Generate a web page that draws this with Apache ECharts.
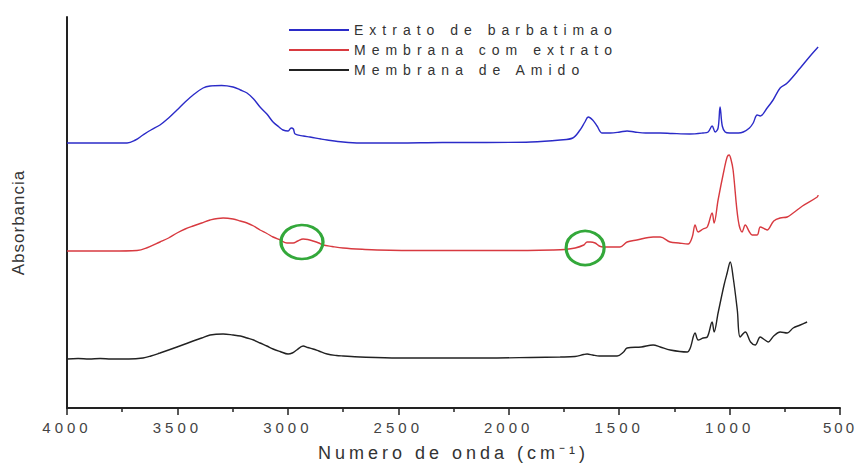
<!DOCTYPE html>
<html>
<head>
<meta charset="utf-8">
<script src="https://cdn.jsdelivr.net/npm/echarts@6/dist/echarts.min.js"></script>
<style>
  html, body { margin: 0; padding: 0; background: #fff; }
  #chart { width: 857px; height: 468px; }
</style>
</head>
<body>
<div id="chart"></div>
<script>
// ---- Data ----
const seriesNames = ['Extrato de barbatimao', 'Membrana com extrato', 'Membrana de Amido'];
const xTicks = [500, 1000, 1500, 2000, 2500, 3000, 3500, 4000];
const xTitle = 'Numero de onda (cm\u207B\u00B9)';
const yTitle = 'Absorbancia';

const blueWn = [4000, 3850, 3760, 3728, 3690, 3656, 3620, 3579, 3540, 3502, 3465, 3429, 3384, 3352, 3300, 3248, 3215, 3185, 3155, 3126, 3095, 3067, 3040, 3022, 2999, 2985, 2975, 2967, 2930, 2900, 2850, 2822, 2750, 2673, 2500, 2300, 2100, 1900, 1767, 1710, 1677, 1655, 1640, 1620, 1600, 1577, 1540, 1496, 1464, 1430, 1380, 1314, 1260, 1180, 1120, 1097, 1079, 1065, 1052, 1043, 1033, 1020, 1000, 960, 938, 910, 893, 875, 861, 830, 803, 771, 739, 680, 635, 599];
const blueAbs = [2.65, 2.65, 2.65, 2.65, 2.68, 2.73, 2.78, 2.83, 2.90, 2.98, 3.06, 3.13, 3.20, 3.22, 3.225, 3.21, 3.18, 3.15, 3.09, 3.01, 2.94, 2.86, 2.81, 2.78, 2.77, 2.80, 2.79, 2.74, 2.72, 2.71, 2.69, 2.68, 2.66, 2.65, 2.65, 2.655, 2.655, 2.66, 2.68, 2.70, 2.78, 2.86, 2.91, 2.88, 2.82, 2.75, 2.75, 2.76, 2.77, 2.76, 2.75, 2.75, 2.745, 2.74, 2.75, 2.76, 2.82, 2.76, 2.80, 3.01, 2.82, 2.76, 2.75, 2.75, 2.76, 2.80, 2.85, 2.93, 2.92, 3.00, 3.08, 3.20, 3.25, 3.40, 3.52, 3.61];

const redWn = [4000, 3800, 3683, 3640, 3579, 3540, 3502, 3465, 3429, 3390, 3352, 3293, 3248, 3215, 3185, 3155, 3126, 3095, 3067, 3035, 3004, 2976, 2955, 2931, 2910, 2886, 2860, 2841, 2800, 2750, 2650, 2596, 2400, 2200, 2000, 1800, 1745, 1699, 1660, 1645, 1630, 1609, 1590, 1572, 1530, 1496, 1464, 1420, 1346, 1314, 1269, 1230, 1188, 1169, 1156, 1142, 1120, 1101, 1079, 1070, 1052, 1025, 1011, 1002, 993, 984, 961, 943, 929, 910, 898, 875, 861, 840, 830, 800, 771, 739, 712, 670, 603, 599];
const redAbs = [1.57, 1.57, 1.575, 1.60, 1.66, 1.70, 1.75, 1.79, 1.82, 1.85, 1.88, 1.90, 1.89, 1.87, 1.85, 1.82, 1.78, 1.745, 1.71, 1.68, 1.65, 1.65, 1.67, 1.69, 1.685, 1.67, 1.65, 1.63, 1.615, 1.60, 1.585, 1.58, 1.575, 1.575, 1.575, 1.58, 1.585, 1.60, 1.63, 1.66, 1.66, 1.65, 1.62, 1.61, 1.61, 1.61, 1.66, 1.68, 1.71, 1.71, 1.66, 1.65, 1.64, 1.71, 1.83, 1.76, 1.79, 1.81, 1.95, 1.85, 2.08, 2.38, 2.51, 2.53, 2.48, 2.38, 1.88, 1.76, 1.83, 1.76, 1.73, 1.73, 1.81, 1.79, 1.78, 1.87, 1.90, 1.91, 1.95, 2.02, 2.11, 2.13];

const blackWn = [4000, 3950, 3900, 3850, 3800, 3720, 3656, 3620, 3579, 3540, 3502, 3465, 3429, 3390, 3352, 3293, 3248, 3215, 3185, 3155, 3126, 3095, 3067, 3035, 2999, 2980, 2960, 2931, 2910, 2886, 2860, 2822, 2780, 2750, 2673, 2500, 2300, 2100, 1900, 1767, 1700, 1660, 1645, 1620, 1590, 1509, 1480, 1464, 1400, 1346, 1314, 1269, 1192, 1178, 1156, 1142, 1120, 1101, 1079, 1070, 1052, 1025, 1011, 997, 984, 965, 952, 929, 905, 884, 861, 840, 825, 800, 771, 739, 712, 680, 649];
const blackAbs = [0.49, 0.495, 0.49, 0.495, 0.49, 0.49, 0.50, 0.52, 0.55, 0.58, 0.61, 0.64, 0.67, 0.70, 0.73, 0.74, 0.73, 0.72, 0.70, 0.68, 0.65, 0.62, 0.59, 0.565, 0.54, 0.55, 0.58, 0.62, 0.605, 0.59, 0.57, 0.54, 0.525, 0.52, 0.51, 0.50, 0.50, 0.50, 0.505, 0.51, 0.515, 0.535, 0.54, 0.53, 0.52, 0.52, 0.56, 0.60, 0.61, 0.63, 0.61, 0.58, 0.56, 0.60, 0.75, 0.68, 0.70, 0.71, 0.86, 0.76, 0.95, 1.23, 1.35, 1.46, 1.31, 0.98, 0.71, 0.76, 0.66, 0.63, 0.71, 0.68, 0.66, 0.72, 0.76, 0.75, 0.80, 0.83, 0.86];

// highlighted bands (green ellipses) on the "Membrana com extrato" curve
const highlightWn = [2936, 1654];
const highlightAbs = [1.66, 1.60];

// ---- Chart ----
const FONT = "'Liberation Sans', Arial, sans-serif";
const zip = (a, b) => a.map((v, i) => [v, b[i]]);
const chart = echarts.init(document.getElementById('chart'), null, { renderer: 'svg' });

chart.setOption({
  animation: false,
  backgroundColor: '#ffffff',
  textStyle: { fontFamily: FONT },
  grid: { left: 67, right: 17, top: 17, bottom: 60 },
  legend: {
    data: seriesNames,
    orient: 'vertical',
    left: 283,
    top: 18,
    itemWidth: 60,
    itemHeight: 14,
    itemGap: 6,
    itemStyle: { color: 'rgba(0,0,0,0)', borderWidth: 0, opacity: 0 },
    textStyle: { fontSize: 14, color: '#333', fontFamily: FONT }
  },
  xAxis: {
    type: 'value',
    inverse: true,
    min: 500,
    max: 4000,
    interval: 500,
    name: xTitle,
    nameLocation: 'middle',
    nameGap: 36,
    nameTextStyle: { fontSize: 18, color: '#333', fontFamily: FONT },
    axisLine: { show: true, onZero: false, lineStyle: { color: '#222', width: 2 } },
    axisTick: { show: true, length: 7, lineStyle: { color: '#222', width: 1.5 } },
    minorTick: { show: true, splitNumber: 2, length: 4, lineStyle: { color: '#222', width: 1.5 } },
    axisLabel: { fontSize: 15, color: '#444', margin: 12, fontFamily: FONT,
      customValues: xTicks, formatter: v => String(v) },
    splitLine: { show: false }
  },
  yAxis: {
    type: 'value',
    min: 0,
    max: 3.91,
    name: yTitle,
    nameLocation: 'middle',
    nameGap: 40,
    nameTextStyle: { fontSize: 17, color: '#333', fontFamily: FONT, padding: [0, 20, 0, 0] },
    axisLine: { show: true, onZero: false, lineStyle: { color: '#222', width: 2 } },
    axisTick: { show: false },
    axisLabel: { show: false },
    splitLine: { show: false }
  },
  series: [
    {
      name: seriesNames[0], type: 'line', symbol: 'none', smooth: 0.35,
      lineStyle: { color: '#2b2bc8', width: 1.4 }, itemStyle: { color: '#2b2bc8' },
      data: zip(blueWn, blueAbs)
    },
    {
      name: seriesNames[1], type: 'line', symbol: 'none', smooth: 0.35,
      lineStyle: { color: '#d83a40', width: 1.4 }, itemStyle: { color: '#d83a40' },
      data: zip(redWn, redAbs),
      markPoint: {
        symbol: 'circle',
        silent: true,
        label: { show: false },
        itemStyle: { color: 'rgba(0,0,0,0)', borderColor: '#33a83a', borderWidth: 3, opacity: 1 },
        data: [
          { coord: [highlightWn[0], highlightAbs[0]], symbolSize: [42, 34] },
          { coord: [highlightWn[1], highlightAbs[1]], symbolSize: [38, 34] }
        ]
      }
    },
    {
      name: seriesNames[2], type: 'line', symbol: 'none', smooth: 0.35,
      lineStyle: { color: '#222222', width: 1.4 }, itemStyle: { color: '#222222' },
      data: zip(blackWn, blackAbs)
    }
  ]
});

// Reference text is drawn with wide letter spacing
function applySpacing() {
  document.querySelectorAll('#chart svg text').forEach(t => {
    const s = t.textContent;
    let ls = null;
    if (seriesNames.indexOf(s) >= 0) ls = 6;
    else if (/^\d+$/.test(s)) ls = (s === '500') ? 3 : 4;
    else if (s === xTitle) ls = 4;
    else if (s === yTitle) ls = 1;
    if (ls !== null) t.setAttribute('letter-spacing', ls + 'px');
  });
}
applySpacing();
chart.on('finished', applySpacing);
setTimeout(applySpacing, 50);
</script>
</body>
</html>
